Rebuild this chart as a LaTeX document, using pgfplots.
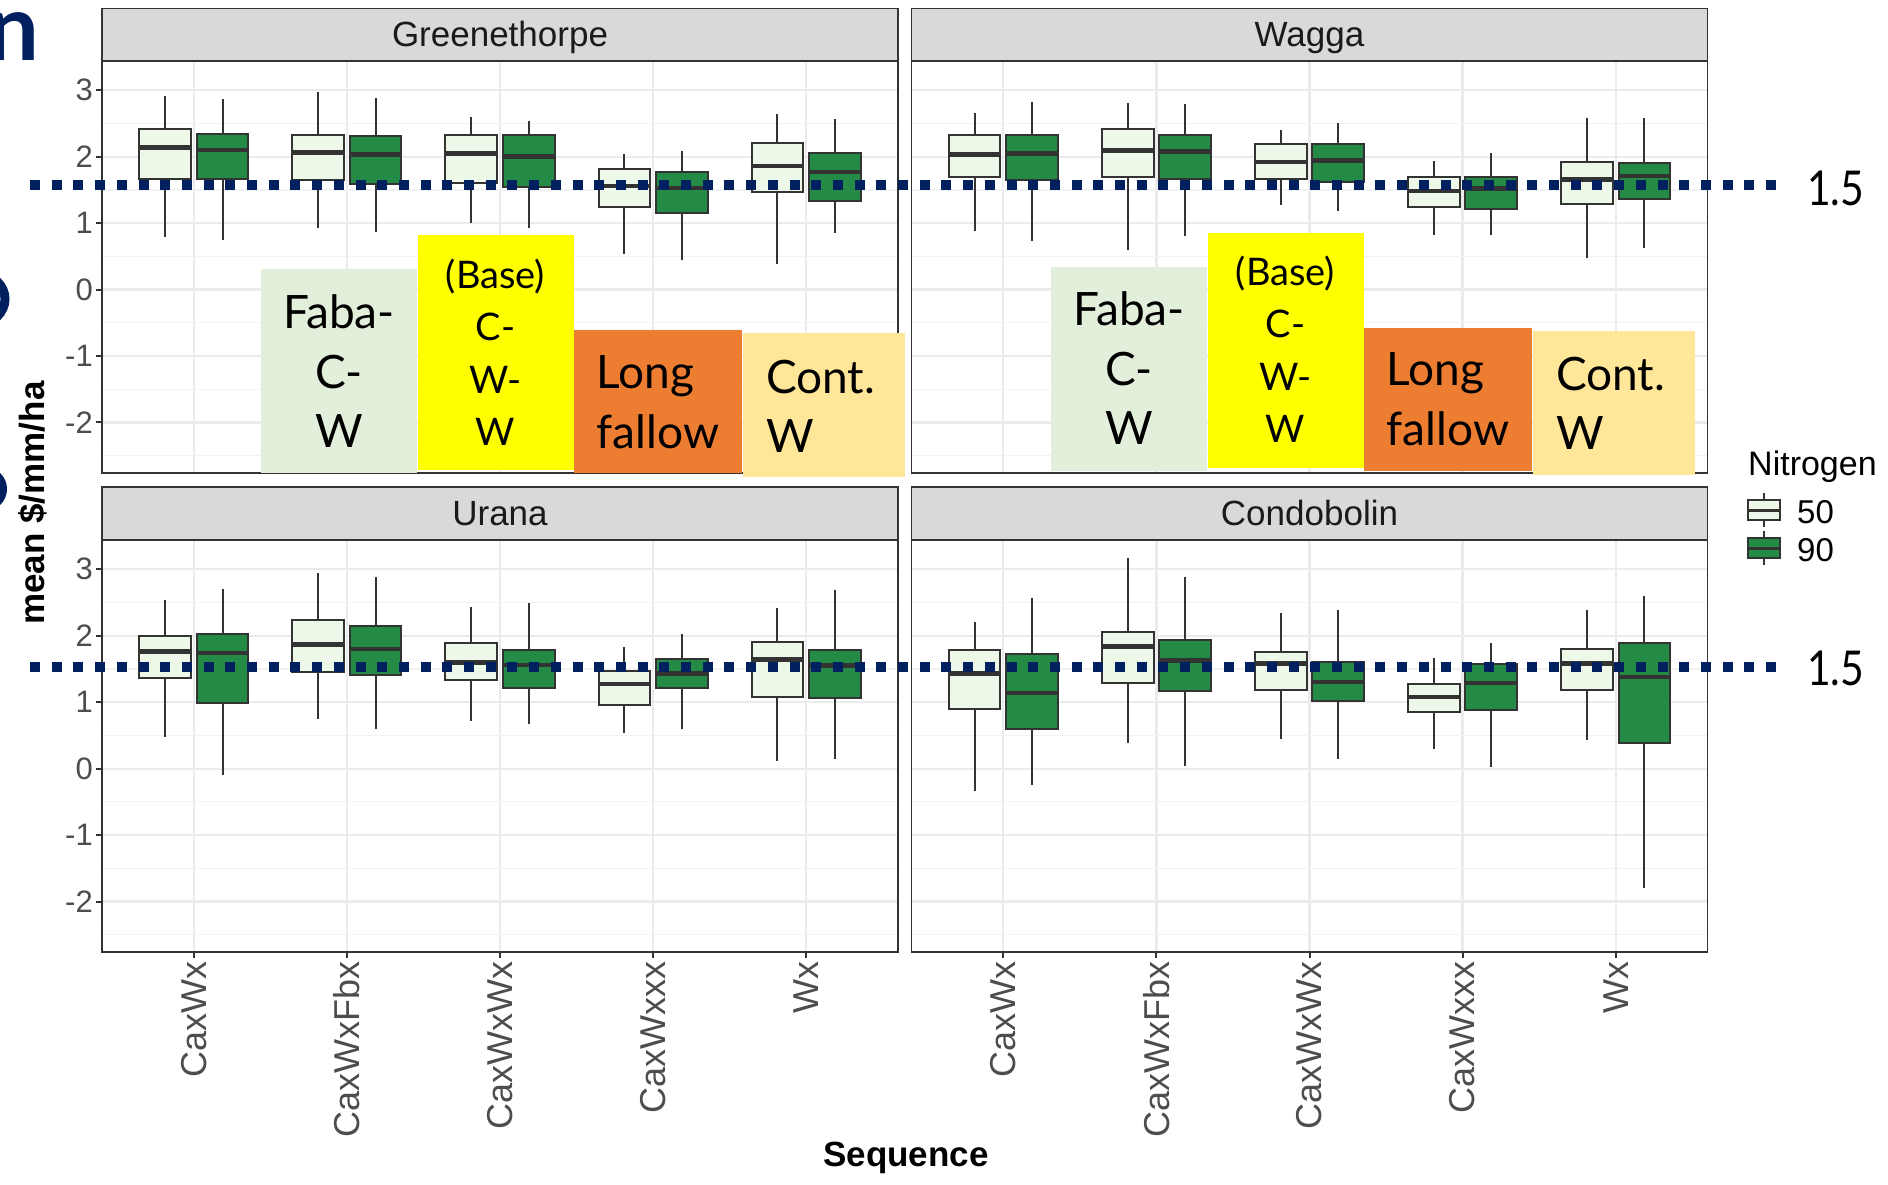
\documentclass[border=0pt]{standalone}
\usepackage{graphicx}
\usepackage{pgfplots}
\pgfplotsset{compat=1.18}
\usepgfplotslibrary{statistics}
\usepackage{fontspec}
\setmainfont{Liberation Sans}
\newfontfamily\gill{Lato}
\definecolor{ctw}{HTML}{333333}
\definecolor{cth}{HTML}{4D4D4D}
\definecolor{cte}{HTML}{1A1A1A}
\definecolor{gmaj}{HTML}{EBEBEB}
\definecolor{gmin}{HTML}{F2F2F2}
\definecolor{lightg}{HTML}{EDF8E9}
\definecolor{darkg}{HTML}{238B45}
\definecolor{navy}{HTML}{002060}
\definecolor{faba}{HTML}{E2EFDA}
\definecolor{basey}{HTML}{FFFF00}
\definecolor{longo}{HTML}{ED7D31}
\definecolor{conty}{HTML}{FFE699}
\definecolor{stripg}{HTML}{D9D9D9}

\pgfplotsset{
  facet/.style={
    scale only axis, width=796pt, height=412pt, anchor=north west,
    xmin=0.4, xmax=5.6, ymin=-2.76, ymax=3.44,
    boxplot/draw direction=y,
    xtick={1,2,3,4,5}, ytick={-2,-1,0,1,2,3},
    minor ytick={-2.5,-1.5,-0.5,0.5,1.5,2.5},
    xmajorgrids, ymajorgrids, yminorgrids,
    major grid style={draw=gmaj, line width=2.2pt},
    minor grid style={draw=gmin, line width=1.2pt},
    axis line style={draw=ctw, line width=1.6pt},
    tick align=outside, major tick length=6pt, minor tick length=0pt,
    tick pos=left,
    tick style={draw=ctw, line width=2pt},
    yticklabel style={font=\fontsize{31}{37}\selectfont, text=cth, inner sep=3pt},
    xticklabel style={font=\fontsize{36}{42}\selectfont, text=cth, rotate=90, anchor=east, inner sep=3pt},
    xticklabels={CaxWx,CaxWxFbx,CaxWxWx,CaxWxxx,Wx},
    yticklabels={-2,-1,0,1,2,3},
    boxplot/box extend=0.3375, boxplot/whisker extend=0,
    boxplot/every median/.style={draw=ctw, line width=4.5pt},
    boxplot/every whisker/.style={draw=ctw, line width=2pt},
    boxplot/every box/.style={draw=ctw, line width=2pt},
  },
  nox/.style={xticklabels={}, xtick style={draw=none}},
  noy/.style={yticklabels={}, ytick style={draw=none}},
}
% position, fill, lower whisker, Q1, median, Q3, upper whisker
\newcommand\bp[7]{\addplot[fill=#2, draw=ctw, boxplot prepared={draw position=#1, lower whisker=#3, lower quartile=#4, median=#5, upper quartile=#6, upper whisker=#7}] coordinates {};}

\begin{document}
\begin{tikzpicture}
% ---------- Greenethorpe ----------
\begin{axis}[facet, nox, at={(102pt,-61pt)}]
\bp{0.8125}{lightg}{0.79}{1.66}{2.14}{2.41}{2.91}
\bp{1.1875}{darkg}{0.75}{1.66}{2.10}{2.34}{2.87}
\bp{1.8125}{lightg}{0.92}{1.65}{2.06}{2.33}{2.97}
\bp{2.1875}{darkg}{0.87}{1.59}{2.03}{2.31}{2.89}
\bp{2.8125}{lightg}{1.00}{1.60}{2.05}{2.33}{2.59}
\bp{3.1875}{darkg}{0.93}{1.55}{2.00}{2.32}{2.54}
\bp{3.8125}{lightg}{0.53}{1.25}{1.56}{1.81}{2.04}
\bp{4.1875}{darkg}{0.44}{1.16}{1.53}{1.77}{2.08}
\bp{4.8125}{lightg}{0.39}{1.47}{1.86}{2.20}{2.64}
\bp{5.1875}{darkg}{0.85}{1.34}{1.77}{2.05}{2.56}
\end{axis}
% ---------- Wagga ----------
\begin{axis}[facet, nox, noy, at={(911.5pt,-61pt)}]
\bp{0.8125}{lightg}{0.88}{1.70}{2.03}{2.32}{2.66}
\bp{1.1875}{darkg}{0.73}{1.65}{2.05}{2.33}{2.82}
\bp{1.8125}{lightg}{0.60}{1.69}{2.09}{2.41}{2.81}
\bp{2.1875}{darkg}{0.81}{1.67}{2.08}{2.33}{2.80}
\bp{2.8125}{lightg}{1.28}{1.66}{1.92}{2.19}{2.40}
\bp{3.1875}{darkg}{1.18}{1.62}{1.94}{2.19}{2.51}
\bp{3.8125}{lightg}{0.82}{1.25}{1.48}{1.69}{1.93}
\bp{4.1875}{darkg}{0.82}{1.21}{1.52}{1.69}{2.05}
\bp{4.8125}{lightg}{0.48}{1.29}{1.66}{1.92}{2.58}
\bp{5.1875}{darkg}{0.62}{1.36}{1.71}{1.91}{2.58}
\end{axis}
% ---------- Urana ----------
\begin{axis}[facet, at={(102pt,-540pt)}]
\bp{0.8125}{lightg}{0.47}{1.37}{1.76}{2.00}{2.54}
\bp{1.1875}{darkg}{-0.10}{0.98}{1.74}{2.03}{2.71}
\bp{1.8125}{lightg}{0.74}{1.46}{1.87}{2.24}{2.94}
\bp{2.1875}{darkg}{0.59}{1.41}{1.80}{2.15}{2.88}
\bp{2.8125}{lightg}{0.71}{1.33}{1.60}{1.89}{2.43}
\bp{3.1875}{darkg}{0.67}{1.21}{1.56}{1.78}{2.49}
\bp{3.8125}{lightg}{0.53}{0.95}{1.27}{1.47}{1.83}
\bp{4.1875}{darkg}{0.59}{1.21}{1.43}{1.65}{2.02}
\bp{4.8125}{lightg}{0.11}{1.08}{1.64}{1.91}{2.41}
\bp{5.1875}{darkg}{0.14}{1.06}{1.55}{1.78}{2.69}
\end{axis}
% ---------- Condobolin ----------
\begin{axis}[facet, noy, at={(911.5pt,-540pt)}]
\bp{0.8125}{lightg}{-0.34}{0.89}{1.43}{1.78}{2.21}
\bp{1.1875}{darkg}{-0.24}{0.59}{1.14}{1.73}{2.57}
\bp{1.8125}{lightg}{0.39}{1.29}{1.84}{2.06}{3.17}
\bp{2.1875}{darkg}{0.04}{1.17}{1.63}{1.93}{2.89}
\bp{2.8125}{lightg}{0.44}{1.18}{1.58}{1.75}{2.34}
\bp{3.1875}{darkg}{0.15}{1.01}{1.30}{1.60}{2.39}
\bp{3.8125}{lightg}{0.29}{0.85}{1.08}{1.28}{1.66}
\bp{4.1875}{darkg}{0.02}{0.88}{1.29}{1.57}{1.89}
\bp{4.8125}{lightg}{0.43}{1.19}{1.58}{1.80}{2.38}
\bp{5.1875}{darkg}{-1.80}{0.39}{1.38}{1.89}{2.60}
\end{axis}

% ---------- facet strips ----------
\begin{scope}[line width=1.6pt]
\filldraw[fill=stripg, draw=ctw] (102pt,-8.3pt) rectangle (898pt,-61pt);
\filldraw[fill=stripg, draw=ctw] (911.5pt,-8.3pt) rectangle (1707.5pt,-61pt);
\filldraw[fill=stripg, draw=ctw] (102pt,-486.7pt) rectangle (898pt,-539.5pt);
\filldraw[fill=stripg, draw=ctw] (911.5pt,-486.7pt) rectangle (1707.5pt,-539.5pt);
\end{scope}
\begin{scope}[every node/.style={anchor=base, inner sep=0pt, text=cte, font=\fontsize{35}{41}\selectfont}]
\node at (500pt,-46.5pt) {Greenethorpe};
\node at (1309.5pt,-46.5pt) {Wagga};
\node at (500pt,-525pt) {Urana};
\node at (1309.5pt,-525pt) {Condobolin};
\end{scope}

% ---------- axis titles ----------
\node[anchor=base, inner sep=0pt, font=\bfseries\fontsize{35}{42}\selectfont] at (906pt,-1166pt) {Sequence};
\node[anchor=base, rotate=90, inner sep=0pt, font=\bfseries\fontsize{35}{42}\selectfont] at (44pt,-503pt) {mean \$/mm/ha};

% ---------- legend ----------
\node[anchor=base west, inner sep=0pt, font=\fontsize{34}{40}\selectfont] at (1748pt,-475pt) {Nitrogen};
\draw[ctw, line width=2pt] (1764pt,-493pt) -- (1764pt,-527pt);
\filldraw[fill=lightg, draw=ctw, line width=2pt] (1748pt,-500pt) rectangle (1780pt,-520pt);
\draw[ctw, line width=3pt] (1748pt,-510pt) -- (1780pt,-510pt);
\draw[ctw, line width=2pt] (1764pt,-531pt) -- (1764pt,-565pt);
\filldraw[fill=darkg, draw=ctw, line width=2pt] (1748pt,-538pt) rectangle (1780pt,-558pt);
\draw[ctw, line width=3pt] (1748pt,-548pt) -- (1780pt,-548pt);
\node[anchor=base west, inner sep=0pt, font=\fontsize{33}{39}\selectfont] at (1797pt,-523pt) {50};
\node[anchor=base west, inner sep=0pt, font=\fontsize{33}{39}\selectfont] at (1797pt,-561pt) {90};

% ---------- slide overlays ----------
\foreach \dx/\dy in {0/0, 790/2.5} {
  \begin{scope}[shift={(\dx pt,\dy pt)}]
  \fill[faba] (261pt,-269pt) rectangle (417pt,-473pt);
  \fill[basey] (418pt,-235pt) rectangle (574pt,-470pt);
  \fill[longo] (574pt,-330pt) rectangle (742pt,-473pt);
  \fill[conty] (743pt,-333pt) rectangle (905pt,-477pt);
  \begin{scope}[every node/.style={inner sep=0pt, font=\gill\fontsize{46}{52}\selectfont}]
  \node[anchor=base] at (339pt,-328pt) {Faba-};
  \node[anchor=base] at (339pt,-388pt) {C-};
  \node[anchor=base] at (339pt,-447pt) {W};
  \node[anchor=base west] at (596.5pt,-388pt) {Long};
  \node[anchor=base west] at (596.5pt,-448pt) {fallow};
  \node[anchor=base west] at (766pt,-393pt) {Cont.};
  \node[anchor=base west] at (766pt,-452pt) {W};
  \end{scope}
  \begin{scope}[every node/.style={inner sep=0pt, anchor=base, font=\gill\fontsize{38}{44}\selectfont}]
  \node at (495.5pt,-288pt) {(Base)};
  \node at (495.5pt,-340pt) {C-};
  \node at (495.5pt,-393pt) {W-};
  \node at (495.5pt,-445pt) {W};
  \end{scope}
  \end{scope}
}

% ---------- threshold lines ----------
\draw[navy, line width=10pt, dash pattern=on 10pt off 11.7pt] (30pt,-185pt) -- (1779pt,-185pt);
\draw[navy, line width=10pt, dash pattern=on 10pt off 11.7pt] (30pt,-667pt) -- (1779pt,-667pt);
\node[anchor=base west, inner sep=0pt, font=\gill\fontsize{48}{54}\selectfont] at (1807pt,-205pt) {\scalebox{0.85}[1]{1.5}};
\node[anchor=base west, inner sep=0pt, font=\gill\fontsize{48}{54}\selectfont] at (1807pt,-685pt) {\scalebox{0.85}[1]{1.5}};

% ---------- slide fragments at left edge ----------
\node[anchor=base east, inner sep=0pt, text=navy, font=\gill\bfseries\fontsize{92}{92}\selectfont] at (40pt,-60pt) {n};
\draw[navy, line width=9pt] (-22pt,-299pt) ellipse [x radius=27pt, y radius=25pt];
\draw[navy, line width=8pt] (-14pt,-489pt) ellipse [x radius=17pt, y radius=17.5pt];

\pgfresetboundingbox
\useasboundingbox (0pt,0pt) rectangle (1888pt,-1184pt);
\end{tikzpicture}
\end{document}
